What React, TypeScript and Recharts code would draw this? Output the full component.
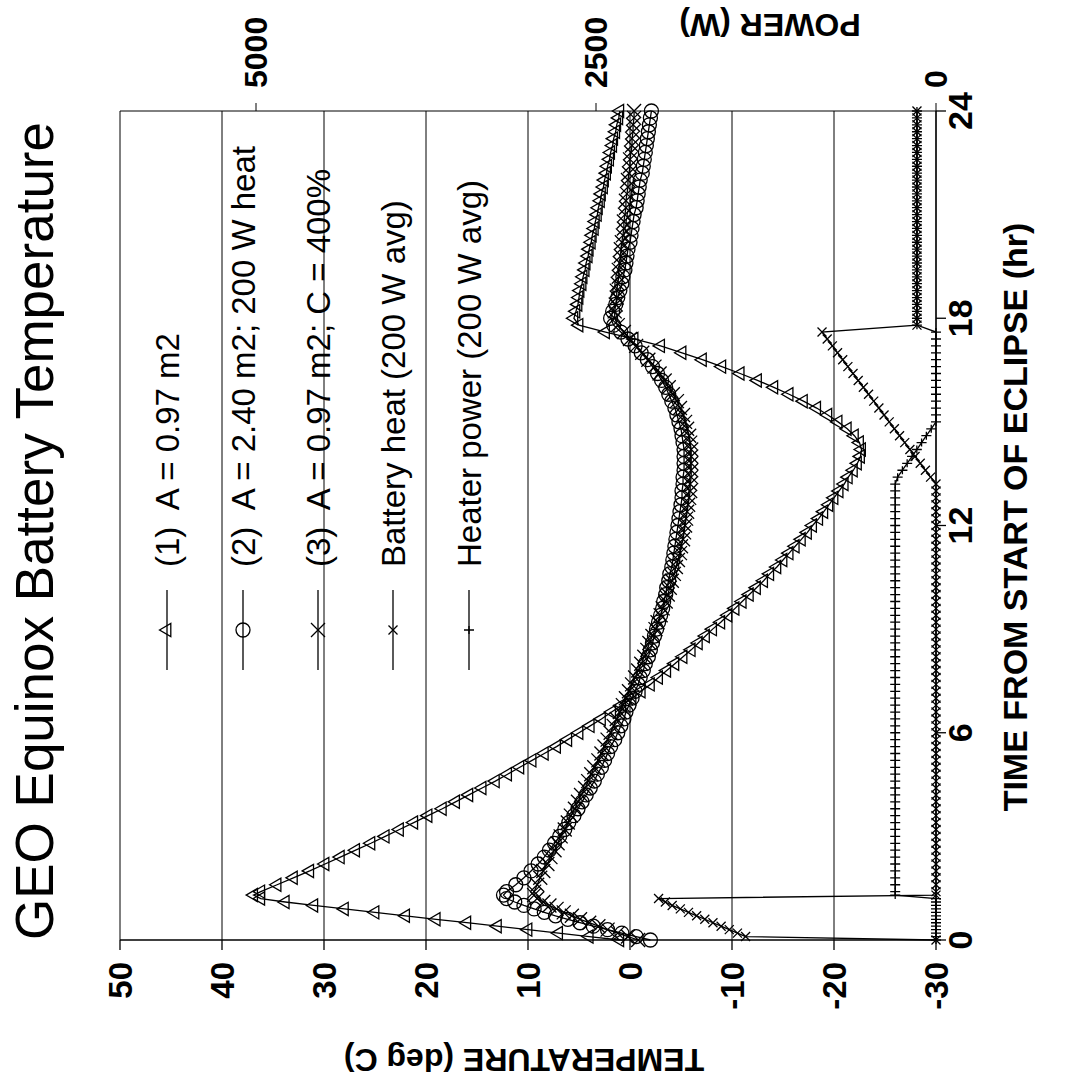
import React from "react";
import { CartesianGrid, Line, LineChart, XAxis, YAxis } from "recharts";

const FONT = '"Liberation Sans", Arial, Helvetica, sans-serif';

// time from start of eclipse (hr)
const hours = [
  0, 0.1, 0.2, 0.3, 0.4, 0.5, 0.6, 0.7, 0.8, 0.9, 1.0, 1.1, 1.2, 1.3, 1.4,
  1.6, 1.8, 2.0, 2.2, 2.4, 2.6, 2.8, 3.0, 3.2, 3.4, 3.6, 3.8, 4.0, 4.2, 4.4, 4.6, 4.8, 5.0, 5.2, 5.4,
  5.6, 5.8, 6.0, 6.2, 6.4, 6.6, 6.8, 7.0, 7.2, 7.4, 7.6, 7.8, 8.0, 8.2, 8.4, 8.6, 8.8, 9.0, 9.2, 9.4,
  9.6, 9.8, 10.0, 10.2, 10.4, 10.6, 10.8, 11.0, 11.2, 11.4, 11.6, 11.8, 12.0, 12.2, 12.4, 12.6, 12.8, 13.0, 13.2, 13.4,
  13.6, 13.8, 14.0, 14.2, 14.4, 14.6, 14.8, 15.0, 15.2, 15.4, 15.6, 15.8, 16.0, 16.2, 16.4, 16.6, 16.8, 17.0, 17.2, 17.4,
  17.6, 17.8, 18.0, 18.2, 18.4, 18.6, 18.8, 19.0, 19.2, 19.4, 19.6, 19.8, 20.0, 20.2, 20.4, 20.6, 20.8, 21.0, 21.2, 21.4,
  21.6, 21.8, 22.0, 22.2, 22.4, 22.6, 22.8, 23.0, 23.2, 23.4, 23.6, 23.8, 24.0,
];

// (1) A = 0.97 m2  (deg C)
const tempCase1 = [
  1.0, 4.0, 7.0, 10.0, 13.0, 16.0, 19.0, 22.0, 25.0, 28.0, 31.0, 33.8, 36.2, 36.9, 36.2,
  34.6, 33.0, 31.4, 29.9, 28.4, 26.9, 25.4, 24.0, 22.6, 21.2, 19.8, 18.4, 17.1, 15.8, 14.5, 13.2, 12.0, 10.8, 9.6, 8.4,
  7.2, 6.1, 5.0, 3.9, 2.8, 1.8, 0.8, -0.2, -1.1, -2.0, -2.8, -3.6, -4.4, -5.2, -6.0, -6.7, -7.4, -8.1, -8.9, -9.6,
  -10.3, -11.0, -11.7, -12.4, -13.1, -13.7, -14.4, -15.0, -15.6, -16.2, -16.8, -17.4, -17.9, -18.5, -19.0, -19.5, -20.0, -20.5, -21.0, -21.4,
  -21.9, -22.3, -22.6, -22.7, -22.5, -22.0, -21.3, -20.4, -19.4, -18.3, -17.0, -15.6, -14.1, -12.5, -10.8, -9.0, -7.1, -5.1, -3.0, -0.4,
  2.4, 5.0, 5.5, 5.3, 5.1, 5.0, 4.9, 4.7, 4.6, 4.4, 4.3, 4.1, 4.0, 3.8, 3.7, 3.5, 3.4, 3.2, 3.1, 2.9,
  2.8, 2.6, 2.5, 2.3, 2.2, 2.0, 1.9, 1.7, 1.6, 1.4, 1.3, 1.1, 1.0,
];

// (2) A = 2.40 m2; 200 W heat
const tempCase2 = [
  -2.0, -0.6, 0.8, 2.2, 3.6, 4.9, 6.1, 7.3, 8.4, 9.4, 10.4, 11.3, 12.1, 12.4, 12.1,
  11.2, 10.4, 9.7, 9.0, 8.4, 7.9, 7.4, 6.9, 6.4, 6.0, 5.5, 5.1, 4.7, 4.3, 3.9, 3.5, 3.2, 2.8, 2.5, 2.2,
  1.9, 1.5, 1.2, 0.9, 0.6, 0.4, 0.1, -0.2, -0.5, -0.8, -1.0, -1.3, -1.5, -1.8, -2.0, -2.2, -2.4, -2.6, -2.8, -3.0,
  -3.2, -3.3, -3.5, -3.6, -3.8, -3.9, -4.1, -4.2, -4.3, -4.4, -4.5, -4.6, -4.7, -4.8, -4.9, -5.0, -5.1, -5.1, -5.2, -5.2,
  -5.3, -5.3, -5.3, -5.3, -5.2, -5.1, -5.0, -4.8, -4.6, -4.4, -4.1, -3.8, -3.5, -3.1, -2.7, -2.2, -1.7, -1.1, -0.5, 0.2,
  0.9, 1.6, 1.9, 1.7, 1.4, 1.2, 1.0, 0.8, 0.7, 0.5, 0.4, 0.3, 0.2, 0.0, -0.1, -0.2, -0.3, -0.4, -0.6, -0.7,
  -0.8, -0.9, -1.0, -1.2, -1.3, -1.4, -1.5, -1.6, -1.7, -1.8, -1.9, -2.0, -2.1,
];

// (3) A = 0.97 m2; C = 400%
const tempCase3 = [
  -0.8, 0.2, 1.2, 2.2, 3.1, 4.0, 4.9, 5.7, 6.5, 7.2, 7.9, 8.5, 9.1, 9.4, 9.4,
  9.1, 8.8, 8.5, 8.1, 7.8, 7.4, 7.1, 6.8, 6.4, 6.1, 5.8, 5.4, 5.1, 4.8, 4.4, 4.1, 3.8, 3.5, 3.1, 2.8,
  2.5, 2.2, 1.9, 1.6, 1.3, 1.0, 0.7, 0.4, 0.1, -0.2, -0.5, -0.8, -1.1, -1.4, -1.7, -1.9, -2.2, -2.5, -2.7, -3.0,
  -3.2, -3.5, -3.7, -3.9, -4.1, -4.3, -4.5, -4.7, -4.9, -5.0, -5.2, -5.3, -5.4, -5.5, -5.6, -5.7, -5.8, -5.9, -5.9, -6.0,
  -6.0, -6.0, -6.0, -6.0, -5.9, -5.8, -5.6, -5.4, -5.2, -4.9, -4.6, -4.2, -3.8, -3.4, -2.9, -2.4, -1.8, -1.2, -0.6, 0.0,
  0.6, 1.2, 1.5, 1.5, 1.4, 1.3, 1.3, 1.2, 1.1, 1.1, 1.0, 0.9, 0.9, 0.8, 0.7, 0.6, 0.6, 0.5, 0.4, 0.4,
  0.3, 0.2, 0.2, 0.1, 0.0, 0.0, -0.1, -0.2, -0.2, -0.3, -0.3, -0.4, -0.4,
];

// battery heat (W)
const batteryHeat = [
  0, 1400, 1460, 1520, 1580, 1640, 1700, 1760, 1820, 1880, 1940, 1990, 2040, 0, 0,
  0, 0, 0, 0, 0, 0, 0, 0, 0, 0, 0, 0, 0, 0, 0, 0, 0, 0, 0, 0,
  0, 0, 0, 0, 0, 0, 0, 0, 0, 0, 0, 0, 0, 0, 0, 0, 0, 0, 0, 0,
  0, 0, 0, 0, 0, 0, 0, 0, 0, 0, 0, 0, 0, 0, 0, 0, 0, 0, 0, 40,
  78, 116, 154, 192, 230, 268, 306, 344, 382, 420, 458, 496, 534, 572, 610, 648, 686, 724, 762, 800,
  838, 140, 140, 140, 140, 140, 140, 140, 140, 140, 140, 140, 140, 140, 140, 140, 140, 140, 140, 140,
  140, 140, 140, 140, 140, 140, 140, 140, 140, 140, 140, 140, 140,
];

// heater power (W)
const heaterPower = [
  0, 0, 0, 0, 0, 0, 0, 0, 0, 0, 0, 0, 0, 300, 300,
  300, 300, 300, 300, 300, 300, 300, 300, 300, 300, 300, 300, 300, 300, 300, 300, 300, 300, 300, 300,
  300, 300, 300, 300, 300, 300, 300, 300, 300, 300, 300, 300, 300, 300, 300, 300, 300, 300, 300, 300,
  300, 300, 300, 300, 300, 300, 300, 300, 300, 300, 300, 300, 300, 300, 300, 300, 300, 300, 300, 282,
  247, 212, 176, 141, 106, 71, 35, 0, 0, 0, 0, 0, 0, 0, 0, 0, 0, 0, 0, 0,
  0, 140, 140, 140, 140, 140, 140, 140, 140, 140, 140, 140, 140, 140, 140, 140, 140, 140, 140, 140,
  140, 140, 140, 140, 140, 140, 140, 140, 140, 140, 140, 140, 140,
];

const timeTicks = [0, 6, 12, 18, 24];
const tempTicks = [-30, -20, -10, 0, 10, 20, 30, 40, 50];
const powerTicks = [0, 2500, 5000];

type MarkerKind = "triangle" | "circle" | "cross" | "star" | "plus";

const series: { key: string; name: string; marker: MarkerKind; axis: string }[] = [
  { key: "c1", name: "(1)  A = 0.97 m2", marker: "triangle", axis: "temp" },
  { key: "c2", name: "(2)  A = 2.40 m2; 200 W heat", marker: "circle", axis: "temp" },
  { key: "c3", name: "(3)  A = 0.97 m2; C = 400%", marker: "cross", axis: "temp" },
  { key: "bat", name: "Battery heat (200 W avg)", marker: "star", axis: "power" },
  { key: "htr", name: "Heater power (200 W avg)", marker: "plus", axis: "power" },
];

const rows = hours.map((t, i) => ({
  t,
  c1: tempCase1[i],
  c2: tempCase2[i],
  c3: tempCase3[i],
  bat: batteryHeat[i],
  htr: heaterPower[i],
}));

function Marker({ kind, cx, cy }: { kind: MarkerKind; cx: number; cy: number }) {
  const common = { fill: "none", stroke: "#000", strokeWidth: 1.3 };
  switch (kind) {
    case "triangle":
      return <path d={`M${cx},${cy - 7.5}L${cx + 6.6},${cy + 3.8}L${cx - 6.6},${cy + 3.8}Z`} {...common} />;
    case "circle":
      return <circle cx={cx} cy={cy} r={7} {...common} />;
    case "cross":
      return <path d={`M${cx - 7},${cy - 7}L${cx + 7},${cy + 7}M${cx - 7},${cy + 7}L${cx + 7},${cy - 7}`} {...common} />;
    case "star":
      return <path d={`M${cx - 4.5},${cy - 4.5}L${cx + 4.5},${cy + 4.5}M${cx - 4.5},${cy + 4.5}L${cx + 4.5},${cy - 4.5}`} {...common} />;
    default:
      return <path d={`M${cx - 4},${cy}L${cx + 4},${cy}M${cx},${cy - 5}L${cx},${cy + 5}`} {...common} />;
  }
}

const makeDot = (kind: MarkerKind) => (p: any) => {
  const key = `${kind}-${p.index}`;
  if (p.cx == null || p.cy == null) return <g key={key} />;
  return <Marker key={key} kind={kind} cx={p.cx} cy={p.cy} />;
};

const legendRowsY = [167, 243, 318, 393, 469];

export default function App() {
  return (
    <div
      style={{
        position: "absolute",
        left: 0,
        top: 0,
        width: 1068,
        height: 1087,
        overflow: "hidden",
        background: "#fff",
      }}
    >
      <div
        style={{
          position: "absolute",
          left: 0,
          top: 0,
          width: 1087,
          height: 1068,
          transformOrigin: "0 0",
          transform: "translate(0px, 1087px) rotate(-90deg)",
          fontFamily: FONT,
        }}
      >
        <LineChart
          width={1087}
          height={1068}
          data={rows}
          margin={{ top: 120, right: 21, bottom: 42, left: 67 }}
        >
          <CartesianGrid yAxisId="temp" vertical={false} stroke="#000" strokeWidth={1} />
          <XAxis
            dataKey="t"
            type="number"
            domain={[0, 24]}
            ticks={timeTicks}
            height={90}
            tickSize={10}
            tickMargin={2}
            stroke="#000"
            strokeWidth={1.3}
            tick={{ fill: "#000", fontSize: 34, fontWeight: 700, fontFamily: FONT }}
          />
          <YAxis
            yAxisId="temp"
            domain={[-30, 50]}
            ticks={tempTicks}
            width={80}
            tickSize={10}
            tickMargin={12}
            stroke="#000"
            strokeWidth={1.3}
            tick={{ fill: "#000", fontSize: 33, fontWeight: 700, fontFamily: FONT }}
          />
          <YAxis
            yAxisId="power"
            orientation="right"
            domain={[0, 6000]}
            ticks={powerTicks}
            width={90}
            tickSize={8}
            tickMargin={15}
            stroke="#000"
            tick={{ fill: "#000", fontSize: 32, fontWeight: 700, fontFamily: FONT }}
          />
          {series.map((s) => (
            <Line
              key={s.key}
              yAxisId={s.axis}
              type="linear"
              dataKey={s.key}
              name={s.name}
              stroke="#000"
              strokeWidth={1.3}
              dot={makeDot(s.marker)}
              activeDot={false}
              isAnimationActive={false}
            />
          ))}
        </LineChart>

        <svg
          width={1087}
          height={1068}
          style={{ position: "absolute", left: 0, top: 0, pointerEvents: "none" }}
          fontFamily={FONT}
        >
          <text x={556} y={53} textAnchor="middle" fontSize={53} fill="#000">
            GEO Equinox Battery Temperature
          </text>
          <text
            transform="translate(27,524) rotate(-90)"
            textAnchor="middle"
            dominantBaseline="central"
            fontSize={32}
            fontWeight={700}
            fill="#000"
          >
            TEMPERATURE (deg C)
          </text>
          <text
            transform="translate(1062,770) rotate(-90)"
            textAnchor="middle"
            dominantBaseline="central"
            fontSize={32}
            fontWeight={700}
            fill="#000"
          >
            POWER (W)
          </text>
          <text x={570} y={1027} textAnchor="middle" fontSize={34} fontWeight={700} fill="#000">
            TIME FROM START OF ECLIPSE (hr)
          </text>
          {series.map((s, i) => (
            <g key={s.key}>
              <line x1={417} x2={497} y1={legendRowsY[i]} y2={legendRowsY[i]} stroke="#000" strokeWidth={1.3} />
              <Marker kind={s.marker} cx={457} cy={legendRowsY[i]} />
              <text
                x={520}
                y={legendRowsY[i]}
                dominantBaseline="central"
                fontSize={33}
                fill="#000"
                style={{ whiteSpace: "pre" }}
              >
                {s.name}
              </text>
            </g>
          ))}
        </svg>
      </div>
    </div>
  );
}
